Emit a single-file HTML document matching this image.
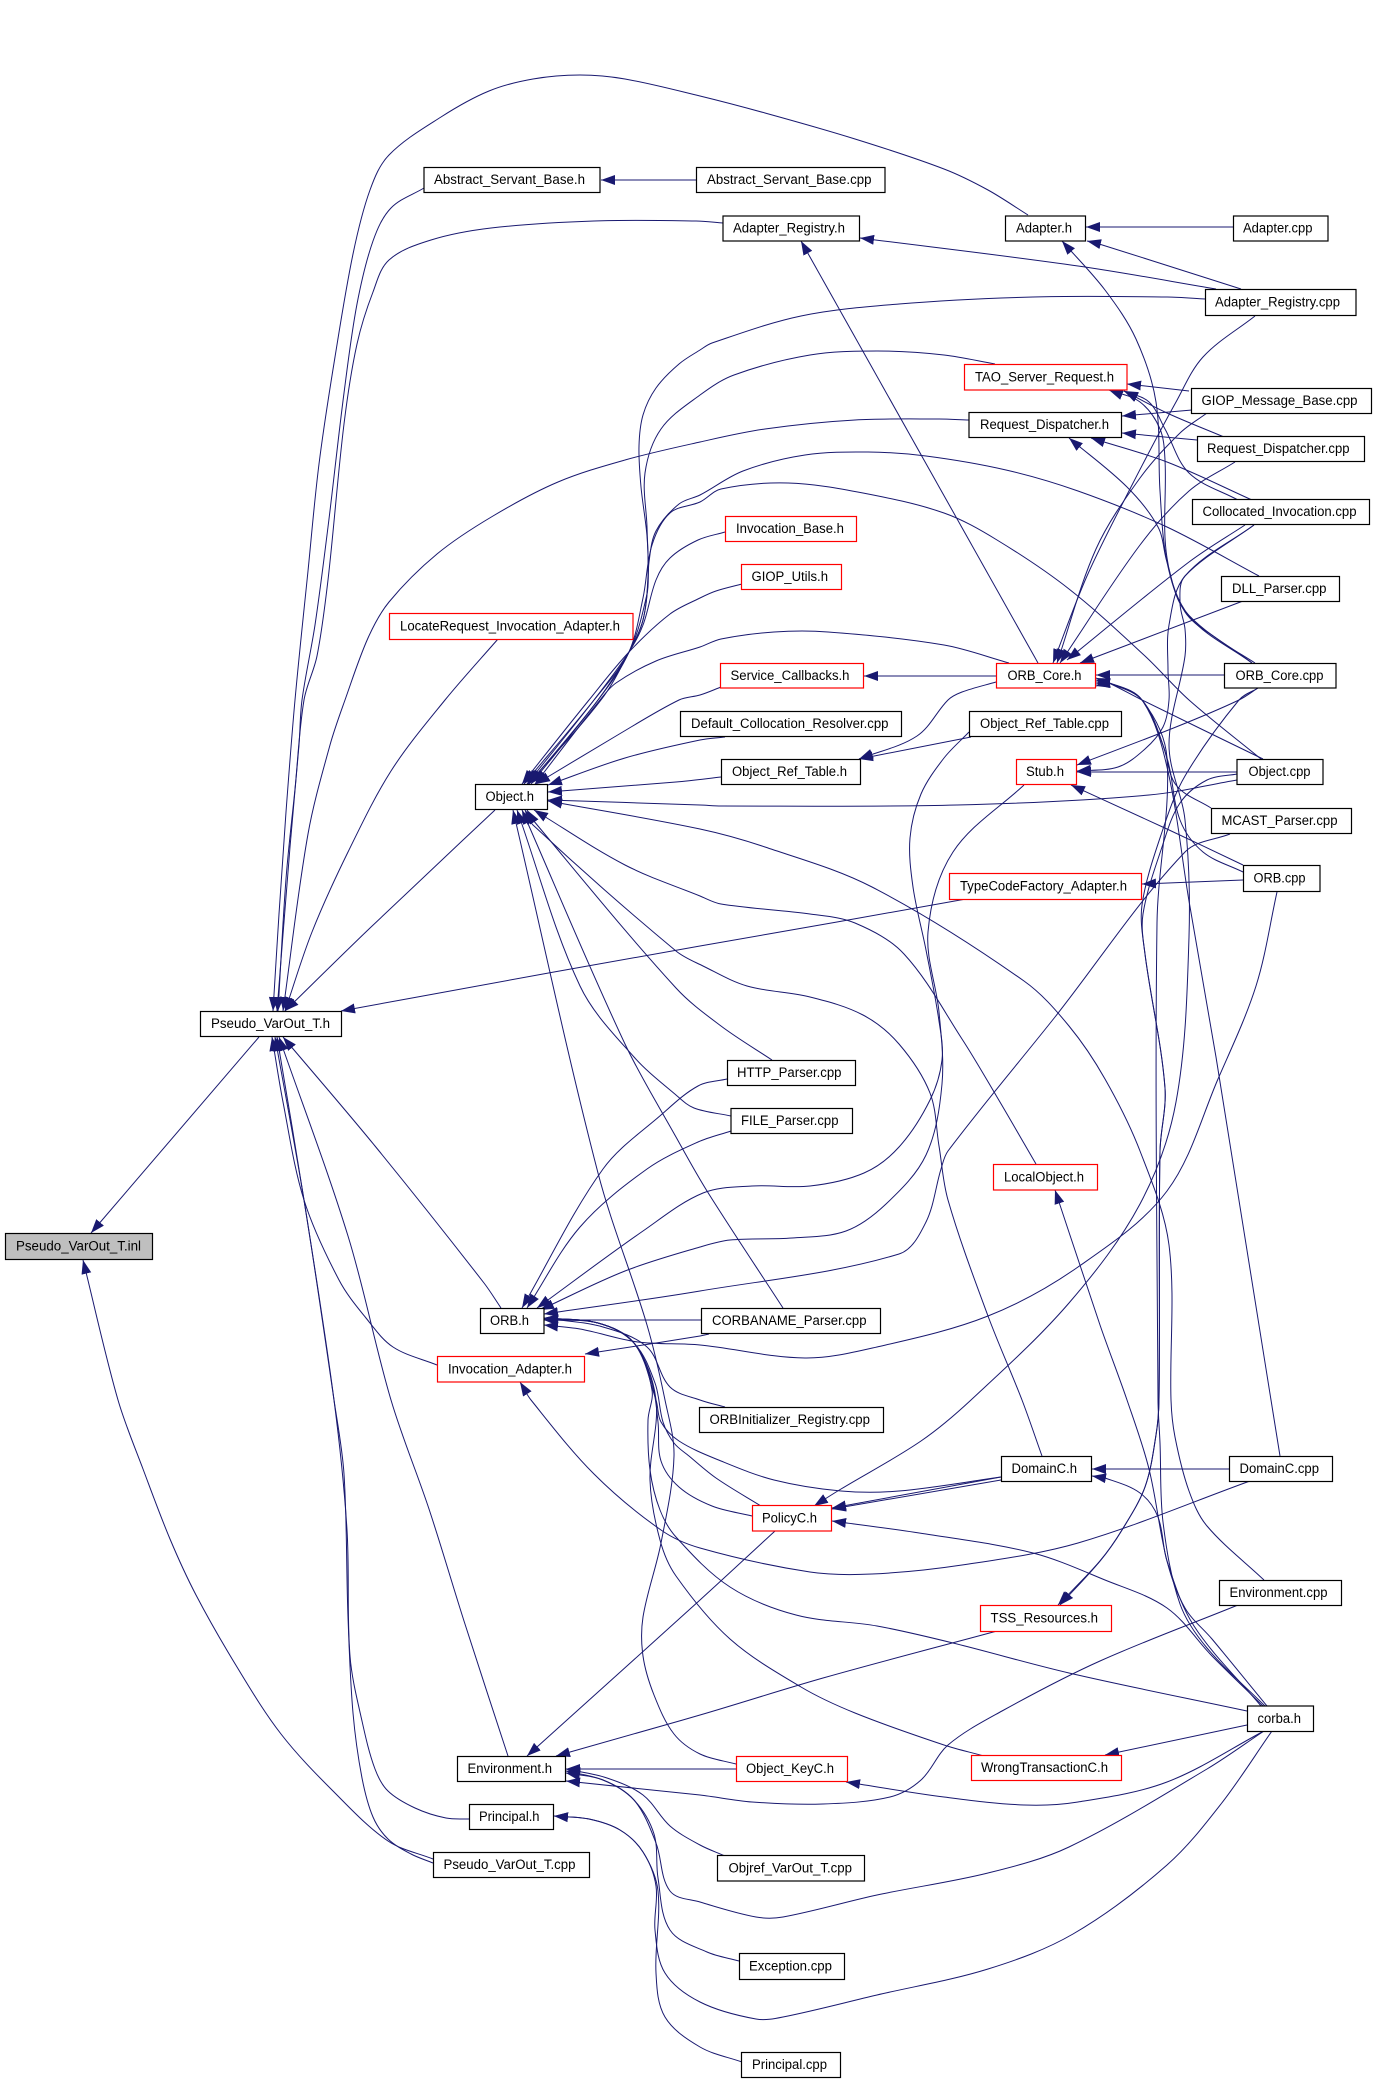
<!DOCTYPE html>
<html><head><meta charset="utf-8"><title>Pseudo_VarOut_T.inl include graph</title>
<style>
html,body{margin:0;padding:0;background:#fff}
svg{display:block}
polyline,.e{fill:none;stroke:#191970;stroke-width:1;stroke-linejoin:round}
rect{fill:#fff;stroke:#000;stroke-width:1.2}
rect.r{stroke:#f00}
rect.g{fill:#bfbfbf}
text{font-family:"Liberation Sans",sans-serif;font-size:13.5px;fill:#000;transform:translateY(-1px)}
</style></head><body>
<svg width="1376" height="2081" viewBox="0 0 1376 2081" xmlns="http://www.w3.org/2000/svg">
<defs><marker id="a" markerUnits="userSpaceOnUse" markerWidth="15" markerHeight="11" viewBox="0 0 15 11" refX="14" refY="5.500" orient="auto"><path d="M0 .5L14 5.500L0 10.500z" fill="#191970"/></marker></defs>
<g id="edges">
<polyline marker-end="url(#a)" points="696,180 601,180"/>
<polyline marker-end="url(#a)" points="1028,215 988,190 944,169 855,139 765,113 700,96 625,79 580,75 533,79 489,91 441,117 389,155 370,190 353,254 335,357 319,464 308,571 295,700 286,812 279,914 273,1011"/>
<polyline marker-end="url(#a)" points="424,188 391,208 373,241 357,304 344,393 328,527 315,625 302,700 299,745 290,847 277,1011"/>
<polyline marker-end="url(#a)" points="723,223 696,221 594,221 491,228 431,240 389,260 373,292 357,344 344,424 328,580 317,656 304,700 295,789 286,879 278,1011"/>
<polyline marker-end="url(#a)" points="969,420 939,419 855,420 765,429 700,442 625,460 558,482 493,516 437,554 389,602 368,638 345,700 330,745 308,834 283,1011"/>
<polyline marker-end="url(#a)" points="498,639 445,700 391,771 348,852 312,932 285,1011"/>
<polyline marker-end="url(#a)" points="495,810 370,928 285,1011"/>
<polyline marker-end="url(#a)" points="966,899 837,922 700,946 554,972 341,1011"/>
<polyline marker-end="url(#a)" points="501,1308 484,1283 375,1146 283,1037"/>
<polyline marker-end="url(#a)" points="437,1365 393,1347 366,1318 339,1280 304,1200 283,1102 272,1037"/>
<polyline marker-end="url(#a)" points="508,1756 464,1621 429,1509 391,1400 348,1236 279,1037"/>
<polyline marker-end="url(#a)" points="470,1819 446,1818 415,1808 388,1791 375,1769 362,1721 350,1656 347,1530 334,1400 304,1200 277,1037"/>
<polyline marker-end="url(#a)" points="433,1863 411,1854 388,1839 373,1817 362,1778 353,1713 348,1617 344,1474 334,1400 304,1200 275,1037"/>
<polyline marker-end="url(#a)" points="259,1037 91,1233"/>
<polyline marker-end="url(#a)" points="433,1859 388,1841 333,1791 281,1734 237,1667 196,1595 170,1539 143,1469 118,1400 83,1260"/>
<polyline marker-end="url(#a)" points="1205,299 1167,297 1033,297 899,304 801,316 712,343 700,350 679,364 656,388 643,415 639,446 641,487 647,536 648,576 643,620 629,652 601,700 528,784"/>
<polyline marker-end="url(#a)" points="995,364 944,355 877,351 810,355 734,375 700,395 661,429 645,473 647,527 648,580 643,620 629,652 598,700 531,784"/>
<polyline marker-end="url(#a)" points="1259,576 1167,527 1078,491 1006,470 926,456 868,452 805,455 743,471 700,495 679,504 656,531 649,562 647,594 629,652 594,700 524,784"/>
<polyline marker-end="url(#a)" points="1261,759 1189,700 1145,656 1069,589 997,540 944,513 863,493 788,483 721,489 700,502 670,513 652,545 643,598 629,652 598,700 529,784"/>
<polyline marker-end="url(#a)" points="725,532 698,540 670,558 656,580 643,625 629,652 594,700 527,784"/>
<polyline marker-end="url(#a)" points="742,584 716,591 700,598 670,614 629,652 589,700 522,784"/>
<polyline marker-end="url(#a)" points="1009,663 944,645 828,632 774,632 721,639 700,647 656,661 616,683 600,700 535,784"/>
<polyline marker-end="url(#a)" points="721,687 700,695 679,700 616,736 536,784"/>
<polyline marker-end="url(#a)" points="725,737 700,740 625,758 548,785"/>
<polyline marker-end="url(#a)" points="721,777 676,782 548,792"/>
<polyline marker-end="url(#a)" points="1237,780 1149,795 957,805 721,806 700,805 548,800"/>
<polyline marker-end="url(#a)" points="1036,1164 997,1097 962,1039 904,954 855,923 810,914 721,904 700,896 625,865 534,810"/>
<polyline marker-end="url(#a)" points="1264,1580 1207,1526 1189,1491 1175,1437 1171,1400 1169,1245 1140,1151 1105,1079 1069,1026 1024,981 872,887 765,847 700,829 548,801"/>
<polyline marker-end="url(#a)" points="736,1764 700,1754 674,1734 654,1695 643,1656 643,1617 661,1543 674,1456 665,1400 647,1325 598,1173 513,810"/>
<polyline marker-end="url(#a)" points="731,1116 694,1108 676,1095 634,1057 580,986 517,810"/>
<polyline marker-end="url(#a)" points="783,1308 707,1191 676,1137 625,1044 522,810"/>
<polyline marker-end="url(#a)" points="772,1060 721,1026 676,988 533,820 527,810"/>
<polyline marker-end="url(#a)" points="1042,1456 1022,1400 988,1316 948,1200 939,1146 930,1093 899,1044 863,1015 810,997 747,986 703,966 676,951 533,825 525,810"/>
<polyline marker-end="url(#a)" points="727,1079 698,1086 661,1115 603,1169 522,1308"/>
<polyline marker-end="url(#a)" points="731,1131 698,1142 647,1169 580,1227 527,1308"/>
<polyline marker-end="url(#a)" points="969,732 944,758 921,794 910,838 913,887 926,950 939,1021 942,1060 930,1100 899,1147 864,1173 810,1186 752,1186 703,1193 643,1231 537,1308"/>
<polyline marker-end="url(#a)" points="1024,785 953,852 928,932 939,1012 942,1084 926,1155 886,1204 846,1231 792,1238 730,1240 700,1247 625,1271 540,1310"/>
<polyline marker-end="url(#a)" points="1230,834 1185,852 1055,1017 948,1151 941,1169 926,1222 899,1254 700,1291 544,1314"/>
<polyline marker-end="url(#a)" points="701,1320 544,1320"/>
<polyline marker-end="url(#a)" points="1277,892 1256,986 1218,1079 1167,1191 1078,1267 988,1316 877,1347 805,1358 700,1345 638,1342 580,1329 544,1325"/>
<polyline marker-end="url(#a)" points="725,1407 700,1400 670,1387 647,1347 603,1327 544,1318"/>
<polyline marker-end="url(#a)" points="1001,1477 899,1491 841,1491 774,1480 721,1461 679,1441 661,1422 656,1400 634,1343 598,1323 544,1318"/>
<polyline marker-end="url(#a)" points="752,1516 712,1506 679,1487 661,1461 658,1422 652,1383 634,1343 598,1323 544,1319"/>
<polyline marker-end="url(#a)" points="761,1506 716,1478 689,1456 674,1443 663,1422 655,1383 634,1343 598,1323 544,1320"/>
<polyline marker-end="url(#a)" points="984,1756 944,1745 855,1713 801,1687 730,1639 676,1576 660,1540 650,1480 656,1400 634,1343 598,1323 544,1318"/>
<polyline marker-end="url(#a)" points="1247,1711 1069,1673 953,1643 877,1626 796,1615 730,1587 676,1537 660,1510 650,1470 648,1420 652,1390 634,1343 598,1323 544,1318"/>
<polyline marker-end="url(#a)" points="1250,1481 1078,1543 962,1565 872,1574 810,1572 700,1548 661,1530 594,1474 531,1400 520,1382"/>
<polyline marker-end="url(#a)" points="709,1334 700,1336 585,1354"/>
<polyline marker-end="url(#a)" points="775,1531 700,1600 527,1756"/>
<polyline marker-end="url(#a)" points="997,1631 823,1678 700,1715 556,1756"/>
<polyline marker-end="url(#a)" points="736,1769 566,1769"/>
<polyline marker-end="url(#a)" points="1238,1605 1100,1661 1002,1711 948,1745 921,1780 890,1797 823,1804 752,1802 700,1795 566,1781"/>
<polyline marker-end="url(#a)" points="725,1856 700,1845 670,1826 643,1795 607,1778 566,1769"/>
<polyline marker-end="url(#a)" points="1264,1731 1207,1769 1069,1847 988,1873 877,1895 783,1917 756,1917 700,1902 670,1891 656,1843 634,1800 603,1780 566,1771"/>
<polyline marker-end="url(#a)" points="739,1961 707,1952 670,1930 658,1878 654,1834 634,1800 603,1780 566,1773"/>
<polyline marker-end="url(#a)" points="1272,1731 1221,1804 1167,1865 1073,1934 988,1969 877,1995 783,2017 756,2019 700,2002 665,1973 655,1930 656,1886 643,1852 620,1830 589,1819 554,1816"/>
<polyline marker-end="url(#a)" points="742,2062 700,2047 665,2017 656,1973 658,1891 643,1852 620,1830 589,1819 554,1816"/>
<polyline marker-end="url(#a)" points="1225,675 1096,675"/>
<polyline marker-end="url(#a)" points="1255,316 1203,357 1176,402 1131,487 1087,576 1053,663"/>
<polyline marker-end="url(#a)" points="1207,413 1180,433 1140,478 1096,549 1057,663"/>
<polyline marker-end="url(#a)" points="1235,462 1189,491 1140,545 1060,663"/>
<polyline marker-end="url(#a)" points="1245,525 1189,562 1067,660"/>
<polyline marker-end="url(#a)" points="1243,601 1080,663"/>
<polyline marker-end="url(#a)" points="1258,688 1239,700 1176,727 1077,765"/>
<polyline marker-end="url(#a)" points="1254,525 1185,576 1169,625 1168,670 1169,700 1163,727 1145,749 1118,767 1077,771"/>
<polyline marker-end="url(#a)" points="1237,772 1077,772"/>
<polyline marker-end="url(#a)" points="1243,865 1167,829 1071,785"/>
<polyline marker-end="url(#a)" points="1234,227 1086,227"/>
<polyline marker-end="url(#a)" points="1241,289 1096,243 1087,241"/>
<polyline marker-end="url(#a)" points="1216,289 1078,266 860,238"/>
<polyline marker-end="url(#a)" points="1038,663 801,241"/>
<polyline marker-end="url(#a)" points="1255,663 1216,638 1185,612 1167,562 1160,491 1156,402 1136,339 1105,290 1062,241"/>
<polyline marker-end="url(#a)" points="1189,391 1127,384"/>
<polyline marker-end="url(#a)" points="1224,437 1167,413 1124,391"/>
<polyline marker-end="url(#a)" points="1238,500 1189,473 1165,429 1149,402 1124,391"/>
<polyline marker-end="url(#a)" points="1252,663 1189,616 1167,558 1165,460 1160,429 1140,402 1109,390"/>
<polyline marker-end="url(#a)" points="1192,410 1122,416"/>
<polyline marker-end="url(#a)" points="1197,440 1122,433"/>
<polyline marker-end="url(#a)" points="1252,500 1167,462 1091,438"/>
<polyline marker-end="url(#a)" points="1252,663 1185,611 1167,562 1158,527 1127,487 1069,438"/>
<polyline marker-end="url(#a)" points="996,676 864,676"/>
<polyline marker-end="url(#a)" points="996,682 962,692 948,700 917,736 859,759"/>
<polyline marker-end="url(#a)" points="971,737 859,759"/>
<polyline marker-end="url(#a)" points="1243,880 1142,884"/>
<polyline marker-end="url(#a)" points="1263,759 1142,700 1109,683 1096,678"/>
<polyline marker-end="url(#a)" points="1211,808 1176,785 1163,745 1142,700 1109,683 1096,680"/>
<polyline marker-end="url(#a)" points="1243,872 1203,852 1180,820 1167,758 1142,700 1109,683 1096,682"/>
<polyline marker-end="url(#a)" points="1280,1456 1271,1400 1216,1057 1189,901 1167,767 1142,700 1109,683 1096,684"/>
<polyline marker-end="url(#a)" points="1265,1706 1207,1648 1180,1604 1163,1522 1160,1443 1158,1400 1157,923 1167,758 1142,700 1109,683 1096,686"/>
<polyline marker-end="url(#a)" points="1258,688 1239,700 1185,776 1163,829 1142,905 1145,954 1165,1088 1160,1151 1159,1400 1156,1435 1145,1487 1122,1530 1100,1561 1058,1605"/>
<polyline marker-end="url(#a)" points="1237,774 1207,780 1180,803 1162,847 1143,914 1145,954 1165,1088 1160,1151 1159,1400 1156,1435 1145,1487 1122,1530 1100,1561 1060,1605"/>
<polyline marker-end="url(#a)" points="1254,525 1185,576 1180,603 1185,629 1185,656 1169,745 1185,820 1189,937 1176,1102 1140,1204 1069,1303 971,1400 921,1441 841,1489 814,1506"/>
<polyline marker-end="url(#a)" points="1261,1706 1194,1626 1167,1561 1158,1517 1140,1493 1105,1478 1092,1476"/>
<polyline marker-end="url(#a)" points="1230,1469 1092,1469"/>
<polyline marker-end="url(#a)" points="1001,1477 832,1508"/>
<polyline marker-end="url(#a)" points="1001,1480 832,1509"/>
<polyline marker-end="url(#a)" points="1263,1706 1212,1656 1167,1608 1105,1580 1033,1553 926,1534 832,1521"/>
<polyline marker-end="url(#a)" points="1267,1706 1212,1639 1185,1608 1167,1561 1149,1469 1127,1400 1100,1325 1055,1190"/>
<polyline marker-end="url(#a)" points="1247,1725 1105,1755"/>
<polyline marker-end="url(#a)" points="1264,1731 1167,1782 1078,1802 1024,1805 944,1797 846,1782"/>
</g>
<rect x="424" y="167.500" width="176" height="25"/><text x="434" y="185" textLength="151" lengthAdjust="spacingAndGlyphs">Abstract_Servant_Base.h</text>
<rect x="696.500" y="167.500" width="188.500" height="25"/><text x="707" y="185" textLength="164.500" lengthAdjust="spacingAndGlyphs">Abstract_Servant_Base.cpp</text>
<rect x="723" y="216" width="136.500" height="25"/><text x="733" y="233.500" textLength="112" lengthAdjust="spacingAndGlyphs">Adapter_Registry.h</text>
<rect x="1005.500" y="216" width="80" height="25"/><text x="1016" y="233.500" textLength="56" lengthAdjust="spacingAndGlyphs">Adapter.h</text>
<rect x="1233.500" y="216" width="94.500" height="25"/><text x="1243" y="233.500" textLength="69.500" lengthAdjust="spacingAndGlyphs">Adapter.cpp</text>
<rect x="1205.500" y="289.500" width="150.500" height="26"/><text x="1215" y="307.500" textLength="125" lengthAdjust="spacingAndGlyphs">Adapter_Registry.cpp</text>
<rect class="r" x="964.500" y="364.500" width="162.500" height="25.500"/><text x="975" y="382.500" textLength="139" lengthAdjust="spacingAndGlyphs">TAO_Server_Request.h</text>
<rect x="1191.500" y="388.500" width="180" height="25"/><text x="1201.500" y="406" textLength="156" lengthAdjust="spacingAndGlyphs">GIOP_Message_Base.cpp</text>
<rect x="969" y="412.500" width="152.500" height="25"/><text x="980" y="430" textLength="129" lengthAdjust="spacingAndGlyphs">Request_Dispatcher.h</text>
<rect x="1197.500" y="436.500" width="167" height="25"/><text x="1207" y="454" textLength="142.500" lengthAdjust="spacingAndGlyphs">Request_Dispatcher.cpp</text>
<rect x="1192.500" y="499.500" width="177" height="25"/><text x="1202.500" y="517" textLength="154" lengthAdjust="spacingAndGlyphs">Collocated_Invocation.cpp</text>
<rect class="r" x="725.500" y="516.500" width="131" height="25"/><text x="736" y="534" textLength="108" lengthAdjust="spacingAndGlyphs">Invocation_Base.h</text>
<rect class="r" x="741.500" y="564.500" width="100" height="25"/><text x="751.500" y="582" textLength="76.500" lengthAdjust="spacingAndGlyphs">GIOP_Utils.h</text>
<rect x="1221.500" y="576.500" width="118" height="25"/><text x="1232" y="594" textLength="94.500" lengthAdjust="spacingAndGlyphs">DLL_Parser.cpp</text>
<rect class="r" x="389.500" y="613.500" width="243.500" height="26"/><text x="400" y="631.500" textLength="220" lengthAdjust="spacingAndGlyphs">LocateRequest_Invocation_Adapter.h</text>
<rect class="r" x="720.500" y="663.500" width="143" height="24.500"/><text x="730.500" y="681" textLength="119" lengthAdjust="spacingAndGlyphs">Service_Callbacks.h</text>
<rect class="r" x="996.500" y="663.500" width="99" height="24.500"/><text x="1007.500" y="681" textLength="74" lengthAdjust="spacingAndGlyphs">ORB_Core.h</text>
<rect x="1224.500" y="663.500" width="111.500" height="24.500"/><text x="1235.500" y="681" textLength="88" lengthAdjust="spacingAndGlyphs">ORB_Core.cpp</text>
<rect x="680.500" y="711.500" width="221" height="25"/><text x="691" y="729" textLength="197.500" lengthAdjust="spacingAndGlyphs">Default_Collocation_Resolver.cpp</text>
<rect x="969.500" y="711.500" width="152" height="25"/><text x="980" y="729" textLength="129" lengthAdjust="spacingAndGlyphs">Object_Ref_Table.cpp</text>
<rect x="721.500" y="759.500" width="139" height="25"/><text x="732" y="777" textLength="115" lengthAdjust="spacingAndGlyphs">Object_Ref_Table.h</text>
<rect class="r" x="1016.500" y="759.500" width="60" height="25"/><text x="1026" y="777" textLength="38" lengthAdjust="spacingAndGlyphs">Stub.h</text>
<rect x="1237" y="759.500" width="86" height="25"/><text x="1248.500" y="777" textLength="62" lengthAdjust="spacingAndGlyphs">Object.cpp</text>
<rect x="475.500" y="784.500" width="72" height="25"/><text x="485.500" y="802" textLength="48.500" lengthAdjust="spacingAndGlyphs">Object.h</text>
<rect x="1211.500" y="808.500" width="140" height="25"/><text x="1221.500" y="826" textLength="116" lengthAdjust="spacingAndGlyphs">MCAST_Parser.cpp</text>
<rect x="1243.500" y="865.500" width="76.500" height="26"/><text x="1253.500" y="883.500" textLength="52" lengthAdjust="spacingAndGlyphs">ORB.cpp</text>
<rect class="r" x="949.500" y="873.500" width="192" height="26"/><text x="960" y="891.500" textLength="167" lengthAdjust="spacingAndGlyphs">TypeCodeFactory_Adapter.h</text>
<rect x="200.500" y="1011.500" width="141" height="25"/><text x="211" y="1029" textLength="119" lengthAdjust="spacingAndGlyphs">Pseudo_VarOut_T.h</text>
<rect x="727.500" y="1060.500" width="128" height="25"/><text x="737" y="1078" textLength="104.500" lengthAdjust="spacingAndGlyphs">HTTP_Parser.cpp</text>
<rect x="731" y="1108.500" width="121.500" height="25"/><text x="741" y="1126" textLength="97.500" lengthAdjust="spacingAndGlyphs">FILE_Parser.cpp</text>
<rect class="r" x="993.500" y="1164.500" width="104" height="25.500"/><text x="1004" y="1182.500" textLength="80" lengthAdjust="spacingAndGlyphs">LocalObject.h</text>
<rect class="g" x="5.500" y="1233.500" width="147" height="26"/><text x="16" y="1251.500" textLength="125" lengthAdjust="spacingAndGlyphs">Pseudo_VarOut_T.inl</text>
<rect x="480.500" y="1308.500" width="63.500" height="25"/><text x="490" y="1326" textLength="39" lengthAdjust="spacingAndGlyphs">ORB.h</text>
<rect x="701.500" y="1308.500" width="179" height="25"/><text x="712" y="1326" textLength="154.500" lengthAdjust="spacingAndGlyphs">CORBANAME_Parser.cpp</text>
<rect class="r" x="437.500" y="1356.500" width="147" height="25.500"/><text x="448" y="1374.500" textLength="124" lengthAdjust="spacingAndGlyphs">Invocation_Adapter.h</text>
<rect x="699.500" y="1407.500" width="184" height="25"/><text x="709.500" y="1425" textLength="160.500" lengthAdjust="spacingAndGlyphs">ORBInitializer_Registry.cpp</text>
<rect x="1001.500" y="1456.500" width="90" height="25"/><text x="1011.500" y="1474" textLength="65.500" lengthAdjust="spacingAndGlyphs">DomainC.h</text>
<rect x="1229.500" y="1456.500" width="103" height="25"/><text x="1239.500" y="1474" textLength="79.500" lengthAdjust="spacingAndGlyphs">DomainC.cpp</text>
<rect class="r" x="752.500" y="1505.500" width="79" height="25.500"/><text x="762" y="1523.500" textLength="55" lengthAdjust="spacingAndGlyphs">PolicyC.h</text>
<rect x="1219.500" y="1580.500" width="122" height="25"/><text x="1229.500" y="1598" textLength="98" lengthAdjust="spacingAndGlyphs">Environment.cpp</text>
<rect class="r" x="980.500" y="1605.500" width="131" height="26"/><text x="990.500" y="1623.500" textLength="107.500" lengthAdjust="spacingAndGlyphs">TSS_Resources.h</text>
<rect x="1247.500" y="1706" width="66" height="25.500"/><text x="1257.500" y="1724" textLength="43.500" lengthAdjust="spacingAndGlyphs">corba.h</text>
<rect class="r" x="971.500" y="1755.500" width="150" height="25"/><text x="981" y="1773" textLength="127" lengthAdjust="spacingAndGlyphs">WrongTransactionC.h</text>
<rect class="r" x="736.500" y="1756.500" width="111" height="25"/><text x="746" y="1774" textLength="88" lengthAdjust="spacingAndGlyphs">Object_KeyC.h</text>
<rect x="457.500" y="1756.500" width="108" height="25"/><text x="467.500" y="1774" textLength="84.500" lengthAdjust="spacingAndGlyphs">Environment.h</text>
<rect x="469.500" y="1804.500" width="84" height="25"/><text x="479" y="1822" textLength="60.500" lengthAdjust="spacingAndGlyphs">Principal.h</text>
<rect x="433.500" y="1852.500" width="156" height="25"/><text x="443.500" y="1870" textLength="132" lengthAdjust="spacingAndGlyphs">Pseudo_VarOut_T.cpp</text>
<rect x="717.500" y="1855.500" width="147" height="25.500"/><text x="728.500" y="1873.500" textLength="123.500" lengthAdjust="spacingAndGlyphs">Objref_VarOut_T.cpp</text>
<rect x="739.500" y="1953.500" width="105" height="26"/><text x="749" y="1971.500" textLength="83" lengthAdjust="spacingAndGlyphs">Exception.cpp</text>
<rect x="741.500" y="2052.500" width="99" height="25"/><text x="752" y="2070" textLength="75" lengthAdjust="spacingAndGlyphs">Principal.cpp</text>
</svg>
<script>
(function(){
var NS="http://www.w3.org/2000/svg";
var pl=document.querySelectorAll("#edges polyline");
for(var k=0;k<pl.length;k++){
var n=pl[k].getAttribute("points").trim().split(/\s+/).map(function(s){return s.split(",").map(Number)});
if(n.length<3)continue;
var t=[];
for(var i=0;i<n.length;i++){
var a=n[Math.max(0,i-1)],b=n[Math.min(n.length-1,i+1)];
var dx=b[0]-a[0],dy=b[1]-a[1],l=Math.hypot(dx,dy)||1;
t.push([dx/l,dy/l]);}
var d="M"+n[0][0]+" "+n[0][1];
for(i=0;i<n.length-1;i++){
var p=n[i],q=n[i+1],s=Math.hypot(q[0]-p[0],q[1]-p[1])/3;
d+="C"+(p[0]+t[i][0]*s).toFixed(1)+" "+(p[1]+t[i][1]*s).toFixed(1)+" "+(q[0]-t[i+1][0]*s).toFixed(1)+" "+(q[1]-t[i+1][1]*s).toFixed(1)+" "+q[0]+" "+q[1];}
var e=document.createElementNS(NS,"path");
e.setAttribute("class","e");
e.setAttribute("d",d);
e.setAttribute("marker-end","url(#a)");
pl[k].parentNode.replaceChild(e,pl[k]);}
})();
</script>
</body></html>
